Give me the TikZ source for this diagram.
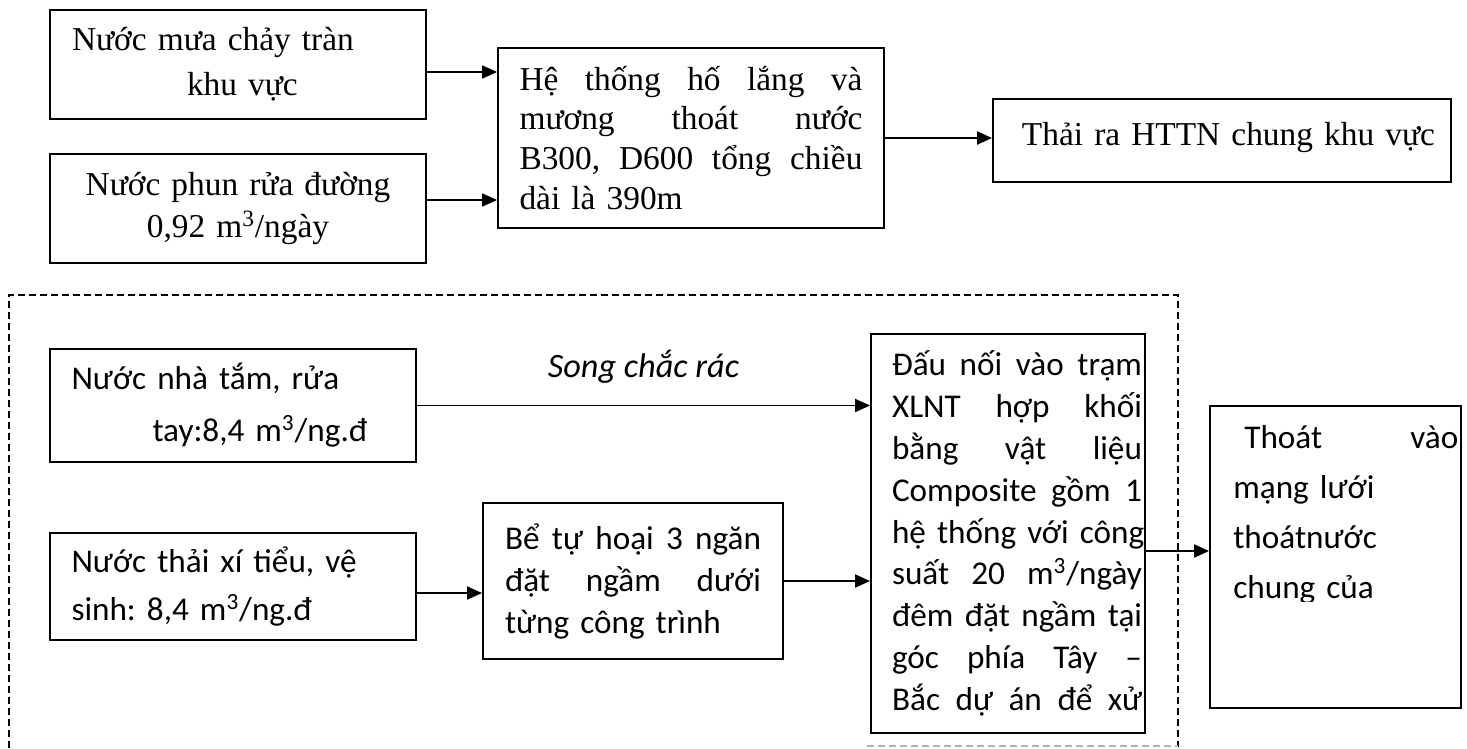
\documentclass[tikz,border=0pt]{standalone}
\usepackage{fontspec}
\setmainfont{Liberation Serif}
\newfontfamily\calibri{Carlito}
\usetikzlibrary{arrows.meta,positioning,calc}
\frenchspacing
\newcommand{\topfont}[1]{\fontsize{19pt}{#1}\selectfont}
\newcommand{\lowfont}[1]{\calibri\fontsize{18.9pt}{#1}\selectfont}
% one justified line: [indent]{width}{words}
\newcommand{\jline}[3][0pt]{\hspace*{#1}\hbox to #2{#3}}
\tikzset{
  box/.style={draw, line width=1.1pt, inner sep=0pt, align=left},
  arrow/.style={-{Triangle[length=0.3cm, width=0.26cm]}, line width=1.1pt},
  frame/.style={dash pattern=on 0.14cm off 0.08cm, line width=0.9pt}
}

\begin{document}
\begin{tikzpicture}[x=0.02cm, y=-0.02cm]
  \useasboundingbox (0,0) rectangle (1467,748);
  % surface water
  \node[box, minimum width=7.52cm, minimum height=2.18cm, text width=6.64cm, font=\topfont{25.6pt}] (rain) at (238,64.5) {Nước mưa chảy tràn\\\hspace*{2.3cm}khu vực};
  \node[box, minimum width=7.52cm, minimum height=2.18cm, text width=6.64cm, align=center, font=\topfont{23.9pt}] (wash) at (238,208.5) {Nước phun rửa đường\\0,92 m\textsuperscript{3}/ngày};
  \node[box, minimum width=7.72cm, minimum height=3.6cm, text width=6.86cm, font=\topfont{22.7pt}] (ditch) at (691,138)
    {\jline{6.86cm}{Hệ \hfill thống \hfill hố \hfill lắng \hfill và}\\
     \jline{6.86cm}{mương \hfill thoát \hfill nước}\\
     \jline{6.86cm}{B300, \hfill D600 \hfill tổng \hfill chiều}\\
     dài là 390m};
  \node[box, minimum width=9.16cm, minimum height=1.66cm, text width=8.52cm, align=right, text height=0.55cm, text depth=0.35cm, font=\topfont{22.7pt}] (drain) at (1222,140.5) {Thải ra HTTN chung khu vực};

  \draw[arrow] ([yshift=-0.15cm]rain.east) -- ([yshift=-0.15cm]rain.east -| ditch.west);
  \draw[arrow] ([yshift=0.17cm]wash.east) -- ([yshift=0.17cm]wash.east -| ditch.west);
  \draw[arrow] (ditch.east) -- (ditch.east -| drain.west);

  % domestic waste water
  \node[box, minimum width=7.32cm, minimum height=2.26cm, text width=6.46cm, font=\lowfont{29.6pt}] (bath) at (233,405.5) {Nước nhà tắm, rửa\\\hspace*{1.62cm}tay:8,4 m\textsuperscript{3}/ng.đ};
  \node[box, minimum width=7.32cm, minimum height=2.14cm, text width=6.46cm, font=\lowfont{27.3pt}] (toilet) at (233,586.5) {Nước thải xí tiểu, vệ\\sinh: 8,4 m\textsuperscript{3}/ng.đ};
  \node[box, minimum width=6cm, minimum height=3.12cm, text width=5.12cm, font=\lowfont{23.9pt}] (septic) at (633,581)
    {\jline{5.12cm}{Bể \hfill tự \hfill hoại \hfill 3 \hfill ngăn}\\
     \jline{5.12cm}{đặt \hfill ngầm \hfill dưới}\\
     từng công trình};
  \node[box, minimum width=5.48cm, minimum height=7.98cm, text width=5.36cm, font=\lowfont{23.8pt}] (plant) at (1008,533.5)
    {\jline[0.36cm]{5cm}{Đấu \hfill nối \hfill vào \hfill trạm}\\
     \jline[0.36cm]{5cm}{XLNT \hfill hợp \hfill khối}\\
     \jline[0.36cm]{5cm}{bằng \hfill vật \hfill liệu}\\
     \jline[0.36cm]{5cm}{Composite \hfill gồm \hfill 1}\\
     \jline[0.36cm]{5cm}{hệ \hfill thống \hfill với \hfill công}\\
     \jline[0.36cm]{5cm}{suất \hfill 20 \hfill m\textsuperscript{3}/ngày}\\
     \jline[0.36cm]{5cm}{đêm \hfill đặt \hfill ngầm \hfill tại}\\
     \jline[0.36cm]{5cm}{góc \hfill phía \hfill Tây \hfill –}\\
     \jline[0.36cm]{5cm}{Bắc \hfill dự \hfill án \hfill để \hfill xử}};
  \node[box, minimum width=5.02cm, minimum height=6.04cm] (outlet) at (1335.5,557) {};
  \begin{scope}
    \clip (1210,406) rectangle (1461,601);
    \node[inner sep=0pt, text width=4.5cm, align=left, anchor=base west, font=\lowfont{28.5pt}] (outlettext) at (1233,448)
      {\jline{4.5cm}{\hspace*{0.22cm}Thoát\hfill vào}\\mạng lưới\\thoátnước\\chung của};
  \end{scope}

  \draw[arrow] (bath.east) -- node[midway, yshift=0.78cm, font=\calibri\fontsize{19.5pt}{24pt}\selectfont\itshape] (screen) {Song chắc rác} (bath.east -| plant.west);
  \draw[arrow] ([yshift=-0.13cm]toilet.east) -- ([yshift=-0.13cm]toilet.east -| septic.west);
  \draw[arrow] (septic.east) -- (septic.east -| plant.west);
  \draw[arrow] ([yshift=-0.35cm]plant.east) -- ([yshift=-0.35cm]plant.east -| outlet.west);

  % dashed frame
  \draw[frame] (9,748) -- (9,295) -- (1178,295) -- (1178,747);
  \draw[frame, gray!60] (867,746) -- (1178,746);
\end{tikzpicture}
\end{document}
